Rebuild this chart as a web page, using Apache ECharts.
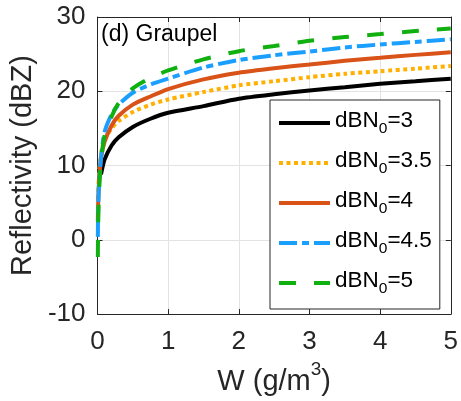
<!DOCTYPE html>
<html>
<head>
<meta charset="utf-8">
<script src="https://cdn.jsdelivr.net/npm/echarts@6/dist/echarts.min.js"></script>
<style>html,body{margin:0;padding:0;background:#fff;}#c{width:461px;height:401px;}</style>
</head>
<body>
<div id="c"></div>
<script>
// Water content W (g/m^3)
const W = [0.005, 0.01, 0.02, 0.05, 0.1, 0.2, 0.3, 0.5, 0.75, 1, 1.5, 2, 2.5, 3, 3.5, 4, 4.5, 5];
// Reflectivity (dBZ) per dBN0
const dbn3   = [null, null, null, 8.8, 10.8, 12.7, 13.8, 15.2, 16.3, 17.1, 18.0, 19.0, 19.6, 20.1, 20.55, 21.0, 21.35, 21.7];
const dbn3_5 = [null, 5.5, 8.5, 11.5, 13.5, 15.0, 16.0, 17.2, 18.2, 18.9, 19.9, 20.8, 21.35, 21.9, 22.35, 22.7, 23.05, 23.4];
const dbn4   = [2.5, 5.0, 7.5, 11.0, 13.2, 15.4, 16.7, 18.2, 19.3, 20.3, 21.6, 22.5, 23.1, 23.6, 24.1, 24.5, 24.9, 25.25];
const dbn4_5 = [0.4, 4.0, 7.0, 11.0, 14.5, 16.9, 18.2, 19.8, 20.9, 21.7, 23.2, 24.2, 24.85, 25.35, 25.9, 26.3, 26.65, 27.0];
const dbn5   = [-2.3, 2.0, 6.0, 10.5, 14.0, 16.6, 18.4, 20.4, 21.8, 22.8, 24.3, 25.4, 26.1, 26.8, 27.3, 27.7, 28.1, 28.45];
const seriesNames = ['3', '3.5', '4', '4.5', '5'];
const xTicks = [0, 1, 2, 3, 4, 5];
const yTicks = [-10, 0, 10, 20, 30];

const FONT = '"Liberation Sans", Arial, sans-serif';
const AX = '#262626';
const chart = echarts.init(document.getElementById('c'), null, {renderer: 'canvas'});
function pairs(vals) { return W.map((w, i) => [w, vals[i]]); }
const styles = [
  {data: dbn3,   color: '#000000', type: 'solid', width: 4},
  {data: dbn3_5, color: '#FFB000', type: [4, 3.5], width: 4},
  {data: dbn4,   color: '#D95319', type: 'solid', width: 4},
  {data: dbn4_5, color: '#1A9FFF', type: [18, 5, 7, 5], width: 4},
  {data: dbn5,   color: '#10B010', type: [17, 18], width: 4}
];
const PREFIX = 'dBN0=';
const series = styles.map((s, i) => ({
  name: PREFIX + seriesNames[i],
  type: 'line',
  data: pairs(s.data),
  xAxisIndex: 0, yAxisIndex: 0,
  symbol: 'none',
  smooth: 0.25,
  connectNulls: false,
  lineStyle: {color: s.color, width: s.width, type: s.type, cap: 'butt'},
  itemStyle: {color: s.color},
  z: 2 + i
}));

const gridStyle = {show: true, lineStyle: {color: '#e3e3e3', width: 1}};
chart.setOption({
  animation: false,
  backgroundColor: '#ffffff',
  textStyle: {fontFamily: FONT},
  title: {
    text: '(d) Graupel', left: 96, top: 18,
    textStyle: {fontFamily: FONT, fontSize: 23, fontWeight: 'normal', color: '#000'}
  },
  grid: {left: 92, right: 8, top: 17, bottom: 84, containLabel: false},
  legend: {
    orient: 'vertical', left: 270, top: 100,
    backgroundColor: '#fff', borderColor: AX, borderWidth: 1,
    padding: [9, 8, 12, 7],
    itemWidth: 51, itemHeight: 14, itemGap: 12,
    itemStyle: {opacity: 0, borderWidth: 0},
    lineStyle: {width: 4, cap: 'butt'},
    formatter: function (name) { return '{b|dBN}{s|0}{b|' + name.slice(PREFIX.length - 1) + '}'; },
    textStyle: {
      fontFamily: FONT, fontSize: 22, color: '#000',
      rich: {
        b: {fontFamily: FONT, fontSize: 22.5, lineHeight: 22, verticalAlign: 'top', color: '#000'},
        s: {fontFamily: FONT, fontSize: 15.5, lineHeight: 28, verticalAlign: 'bottom', color: '#000'}
      }
    },
    data: series.map(s => s.name)
  },
  xAxis: [{
    type: 'value', min: 0, max: 5, interval: 1,
    name: '{b|W (g/m}{s|3}{b|)}', nameLocation: 'middle', nameGap: 37,
    nameTextStyle: {
      fontFamily: FONT, fontSize: 29, color: AX,
      rich: {
        b: {fontFamily: FONT, fontSize: 29, lineHeight: 29, verticalAlign: 'bottom', color: AX},
        s: {fontFamily: FONT, fontSize: 19, lineHeight: 19, padding: [0, 0, 17, 0], verticalAlign: 'bottom', color: AX}
      }
    },
    axisLine: {show: true, onZero: false, lineStyle: {color: AX, width: 1}},
    axisTick: {show: true, inside: true, length: 5, lineStyle: {color: AX}},
    axisLabel: {show: true, fontFamily: FONT, fontSize: 26, color: AX, margin: 15,
      formatter: v => xTicks.includes(v) ? String(v) : ''},
    splitLine: gridStyle
  }, {
    type: 'value', min: 0, max: 5, interval: 1, position: 'top',
    axisLine: {show: true, onZero: false, lineStyle: {color: AX, width: 1}},
    axisTick: {show: true, inside: true, length: 5, lineStyle: {color: AX}},
    axisLabel: {show: false}, splitLine: {show: false}
  }],
  yAxis: [{
    type: 'value', min: -10, max: 30, interval: 10,
    name: 'Reflectivity (dBZ)', nameLocation: 'middle', nameGap: 52, nameRotate: 90,
    nameTextStyle: {fontFamily: FONT, fontSize: 29, color: AX},
    axisLine: {show: true, onZero: false, lineStyle: {color: AX, width: 1}},
    axisTick: {show: true, inside: true, length: 5, lineStyle: {color: AX}},
    axisLabel: {show: true, fontFamily: FONT, fontSize: 26, color: AX, margin: 12,
      formatter: v => yTicks.includes(v) ? String(v) : ''},
    splitLine: gridStyle
  }, {
    type: 'value', min: -10, max: 30, interval: 10, position: 'right',
    axisLine: {show: true, onZero: false, lineStyle: {color: AX, width: 1}},
    axisTick: {show: true, inside: true, length: 5, lineStyle: {color: AX}},
    axisLabel: {show: false}, splitLine: {show: false}
  }],
  series: series
});
</script>
</body>
</html>
